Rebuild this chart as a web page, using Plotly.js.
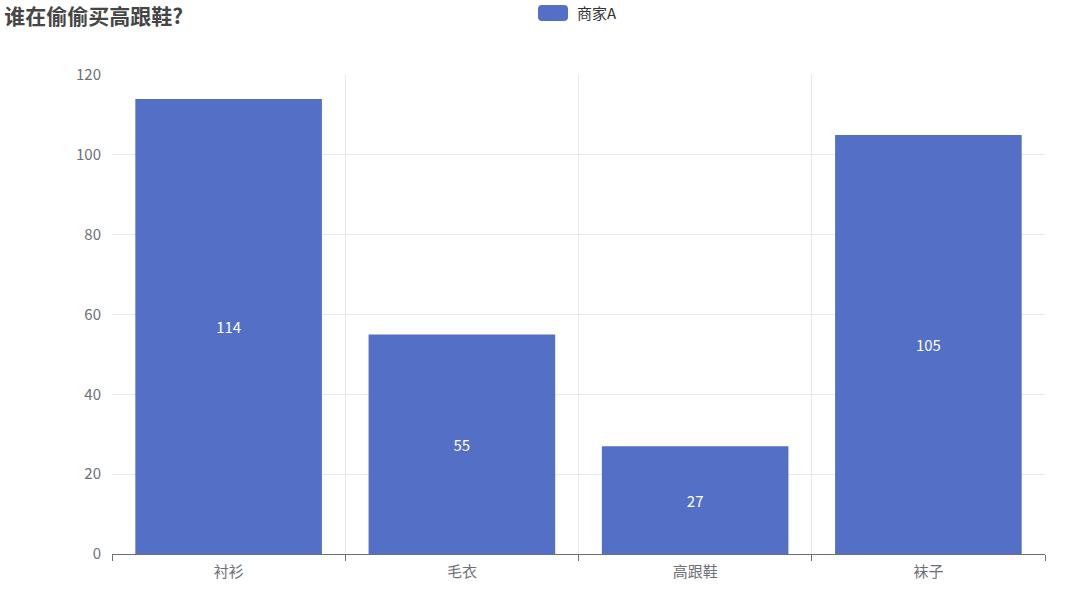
<!DOCTYPE html>
<html><head><meta charset="utf-8">
<script src="https://cdn.plot.ly/plotly-3.0.1.min.js"></script>
<style>html,body{margin:0;padding:0;background:#fff}#c{width:1080px;height:596px}</style>
</head><body><div id="c"></div>
<script>
const chartTitle = "谁在偷偷买高跟鞋?";
const seriesName = "商家A";
const categories = ["衬衫", "毛衣", "高跟鞋", "袜子"];
const values = [114, 55, 27, 105];
const yTicks = [0, 20, 40, 60, 80, 100, 120];

const W = 1080, H = 596;
const M = {l: 112, r: 35, t: 75, b: 42};
const pw = W - M.l - M.r, ph = H - M.t - M.b;
const px = x => (x - M.l) / pw;
const py = y => (H - M.b - y) / ph;

function roundRect(x0, y0, x1, y1, r) {
  const X = v => px(v).toFixed(5), Y = v => py(v).toFixed(5);
  return `M ${X(x0 + r)} ${Y(y0)} L ${X(x1 - r)} ${Y(y0)} Q ${X(x1)} ${Y(y0)} ${X(x1)} ${Y(y0 + r)} ` +
         `L ${X(x1)} ${Y(y1 - r)} Q ${X(x1)} ${Y(y1)} ${X(x1 - r)} ${Y(y1)} L ${X(x0 + r)} ${Y(y1)} ` +
         `Q ${X(x0)} ${Y(y1)} ${X(x0)} ${Y(y1 - r)} L ${X(x0)} ${Y(y0 + r)} Q ${X(x0)} ${Y(y0)} ${X(x0 + r)} ${Y(y0)} Z`;
}

const font = "'Noto Sans CJK SC', 'Noto Sans', sans-serif";

const trace = {
  type: "bar",
  name: seriesName,
  x: categories,
  y: values,
  text: values.map(String),
  textposition: "inside",
  insidetextanchor: "middle",
  textfont: {color: "#ffffff", size: 15, family: font},
  marker: {color: "#5470c6"},
  width: 0.8,
  hoverinfo: "x+y"
};

const layout = {
  width: W, height: H,
  margin: M,
  paper_bgcolor: "#fff", plot_bgcolor: "#fff",
  showlegend: false,
  font: {family: font, color: "#6e7079", size: 15},
  title: {text: "<b>" + chartTitle + "</b>", x: 0.004, xanchor: "left", y: 0.972, yanchor: "middle",
          font: {size: 21, color: "#464646", family: font}},
  xaxis: {
    type: "category",
    tickson: "boundaries",
    ticks: "outside", ticklen: 6, tickcolor: "#6e7079",
    showline: true, linecolor: "#6e7079", linewidth: 1,
    showgrid: true, gridcolor: "#e6e9f0",
    ticklabelstandoff: 4,
    tickfont: {size: 15, color: "#6e7079"},
    range: [-0.5, categories.length - 0.5],
    fixedrange: true
  },
  yaxis: {
    range: [0, 120],
    tickvals: yTicks,
    showline: false, zeroline: false,
    showgrid: true, gridcolor: "#e6e9f0",
    ticks: "", ticklabelstandoff: 10,
    tickfont: {size: 15, color: "#6e7079"},
    fixedrange: true
  },
  shapes: [{
    type: "path", xref: "paper", yref: "paper",
    path: roundRect(538, 5, 568, 21, 4),
    fillcolor: "#5470c6", line: {width: 0}
  }],
  annotations: [{
    xref: "paper", yref: "paper", x: px(575), y: py(13),
    xanchor: "left", yanchor: "middle", showarrow: false,
    text: seriesName, font: {size: 15, color: "#333333", family: font}
  }]
};

Plotly.newPlot("c", [trace], layout, {displayModeBar: false, staticPlot: true});
</script></body></html>
